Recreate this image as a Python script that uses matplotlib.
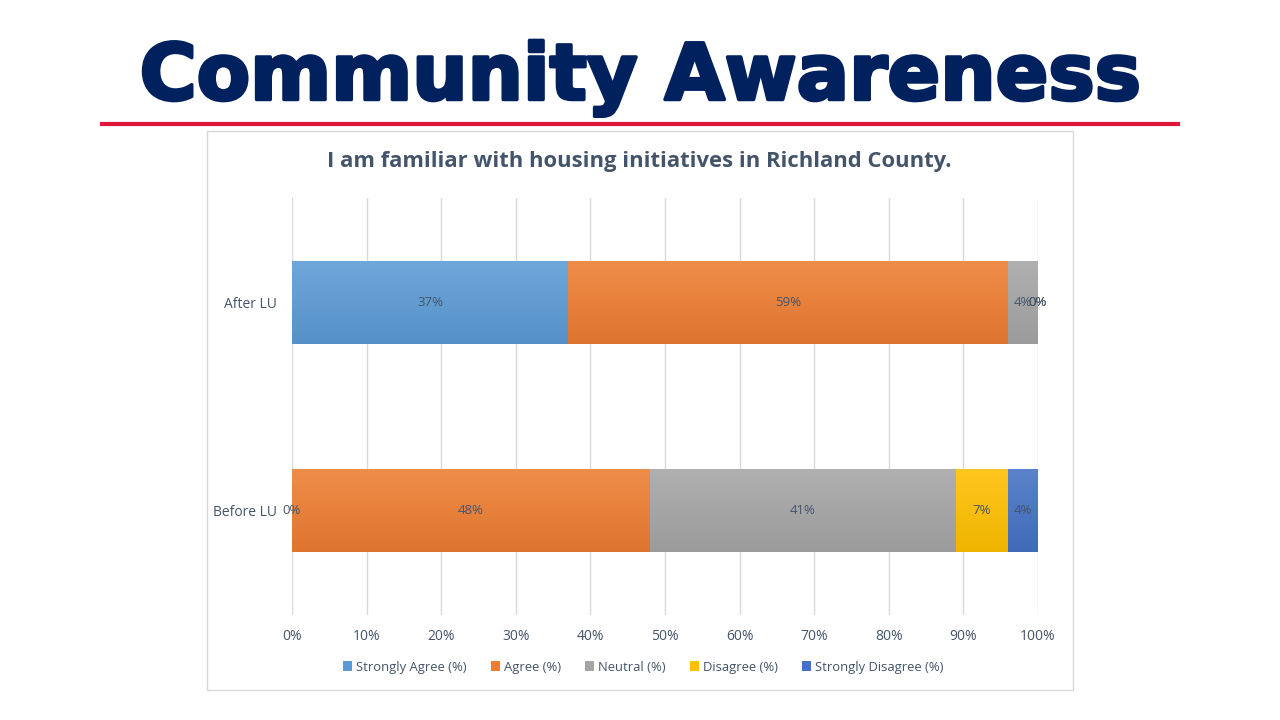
import matplotlib.pyplot as plt
import matplotlib.patheffects as pe
from matplotlib.patches import Rectangle
from matplotlib.lines import Line2D
from matplotlib.colors import LinearSegmentedColormap, to_rgb
import numpy as np

categories = ['Before LU', 'After LU']
series = ['Strongly Agree (%)', 'Agree (%)', 'Neutral (%)', 'Disagree (%)', 'Strongly Disagree (%)']
values = {
    'Strongly Agree (%)': [0, 37],
    'Agree (%)': [48, 59],
    'Neutral (%)': [41, 4],
    'Disagree (%)': [7, 0],
    'Strongly Disagree (%)': [4, 0],
}
colors = ['#5b9bd5', '#ed7d31', '#a5a5a5', '#ffc000', '#4472c4']
xticks = [0, 10, 20, 30, 40, 50, 60, 70, 80, 90, 100]

plt.rcParams['font.family'] = ['Open Sans', 'DejaVu Sans']
txt = '#44546a'


def shade(c, f):
    r = np.array(to_rgb(c))
    if f > 0:
        return tuple(r + (1 - r) * f)
    return tuple(r * (1 + f))


fig = plt.figure(figsize=(12.8, 7.2), dpi=100)

# slide title and red rule
fig.text(640 / 1280, 1 - 78 / 720, 'Community Awareness', ha='center', va='center',
         fontsize=56, fontweight='bold', color='#00215e', family='DejaVu Sans',
         path_effects=[pe.Stroke(linewidth=2.5, foreground='#00215e'), pe.Normal()])
fig.add_artist(Line2D([102 / 1280, 1178 / 1280], [1 - 124 / 720] * 2,
                      color='#e0173a', lw=3))

# chart frame
fig.add_artist(Rectangle((207 / 1280, 1 - 690 / 720), 866 / 1280, 559 / 720,
                         fill=False, edgecolor='#d9d9d9', lw=1))
fig.text(639 / 1280, 1 - 162 / 720,
         'I am familiar with housing initiatives in Richland County.',
         ha='center', va='center', fontsize=15.8, fontweight='bold', color=txt)

ax = fig.add_axes([292 / 1280, 1 - 615 / 720, 746 / 1280, 417 / 720])
y = np.arange(len(categories))
left = np.zeros(len(categories))
grad = np.linspace(0, 1, 64).reshape(-1, 1)
for s, c in zip(series, colors):
    v = np.array(values[s], dtype=float)
    bars = ax.barh(y, v, left=left, height=0.4, color=c, label=s, zorder=2)
    cmap = LinearSegmentedColormap.from_list(s, [shade(c, -0.06), shade(c, 0.12)])
    for b in bars:
        if b.get_width() <= 0:
            continue
        x0, y0 = b.get_x(), b.get_y()
        im = ax.imshow(grad, extent=[x0, x0 + b.get_width(), y0, y0 + b.get_height()],
                       cmap=cmap, aspect='auto', origin='lower', zorder=2.1,
                       interpolation='bilinear')
        im.set_clip_path(b)
    for yi, (l, vi) in enumerate(zip(left, v)):
        ax.text(l + vi / 2, yi, f'{int(vi)}%', ha='center', va='center',
                fontsize=9.5, color=txt, zorder=3)
    left += v

ax.set_xlim(0, 100)
ax.set_ylim(-0.5, 1.5)
ax.set_xticks(xticks)
ax.set_xticklabels([f'{t}%' for t in xticks], fontsize=10, color=txt)
ax.set_yticks(y)
ax.set_yticklabels(categories, fontsize=10, color=txt)
ax.tick_params(length=0, pad=10)
ax.tick_params(axis='y', pad=11)
ax.grid(axis='x', color='#d9d9d9', lw=1, zorder=0)
for sp in ax.spines.values():
    sp.set_visible(False)

ax.legend(loc='center', bbox_to_anchor=(0.471, -0.125), ncol=5, frameon=False,
          fontsize=9.4, handlelength=0.7, handleheight=0.7, handletextpad=0.3,
          columnspacing=1.85, labelcolor=txt)

fig.savefig('out.png', dpi=100)
